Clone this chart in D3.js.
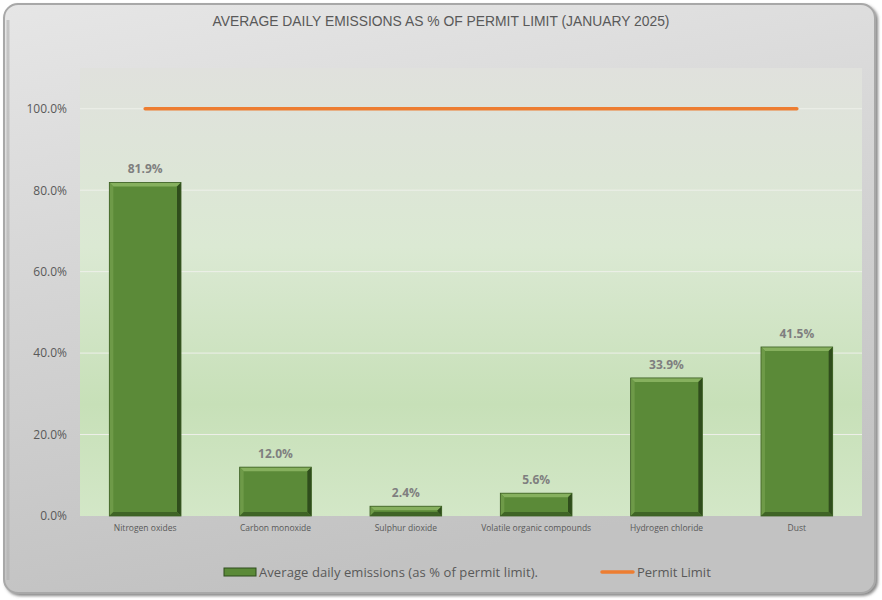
<!DOCTYPE html>
<html><head><meta charset="utf-8">
<script src="https://cdn.jsdelivr.net/npm/d3@7"></script>
<style>body{margin:0;background:#fff;} svg{display:block;}</style>
</head><body>
<svg id="c" width="882" height="600"></svg>
<script>
const categories = ["Nitrogen oxides","Carbon monoxide","Sulphur dioxide","Volatile organic compounds","Hydrogen chloride","Dust"];
const emissions = [0.819, 0.120, 0.024, 0.056, 0.339, 0.415];
const permitLimit = [1, 1, 1, 1, 1, 1];
const yTicks = [0, 0.2, 0.4, 0.6, 0.8, 1.0];
const title = "AVERAGE DAILY EMISSIONS AS % OF PERMIT LIMIT (JANUARY 2025)";
const legendLabels = ["Average daily emissions (as % of permit limit).", "Permit Limit"];

const svg = d3.select("#c");
const defs = svg.append("defs");

const bg = defs.append("linearGradient").attr("id","bg").attr("x1",0).attr("y1",0).attr("x2",0.25).attr("y2",1);
bg.append("stop").attr("offset","0%").attr("stop-color","#e6e6e6");
bg.append("stop").attr("offset","55%").attr("stop-color","#d2d2d2");
bg.append("stop").attr("offset","100%").attr("stop-color","#c2c2c2");

const pa = defs.append("linearGradient").attr("id","pa").attr("x1",0).attr("y1",0).attr("x2",0).attr("y2",1);
pa.append("stop").attr("offset","0%").attr("stop-color","#e0e1dd");
pa.append("stop").attr("offset","40%").attr("stop-color","#dbe9d3");
pa.append("stop").attr("offset","75%").attr("stop-color","#c7e0b8");
pa.append("stop").attr("offset","100%").attr("stop-color","#d3e7c7");

const sh = defs.append("filter").attr("id","sh").attr("x","-5%").attr("y","-5%").attr("width","110%").attr("height","110%");
sh.append("feDropShadow").attr("dx",2).attr("dy",2).attr("stdDeviation",1.5).attr("flood-color","#555").attr("flood-opacity",0.7);

// frame
svg.append("rect").attr("x",4).attr("y",4).attr("width",871).attr("height",589).attr("rx",14)
  .attr("fill","url(#bg)").attr("stroke","#a8a8a8").attr("stroke-width",2).attr("filter","url(#sh)");
svg.append("path").attr("d","M 8 580 L 8 20").attr("stroke","#b0b0b0").attr("stroke-width",3).attr("opacity",0.6);

const m = {l:80, r:862, t:68, b:516};
const x = d3.scaleBand().domain(categories).range([m.l, m.r]).paddingInner(0.45).paddingOuter(0.225);
const y = d3.scaleLinear().domain([0, 1.1]).range([m.b, m.t]);

svg.append("rect").attr("x",m.l).attr("y",m.t).attr("width",m.r-m.l).attr("height",m.b-m.t).attr("fill","url(#pa)");

// gridlines
svg.append("g").selectAll("line").data(yTicks.slice(1)).join("line")
  .attr("x1",m.l).attr("x2",m.r).attr("y1",d=>y(d)).attr("y2",d=>y(d))
  .attr("stroke","#eef0ea").attr("stroke-width",1);

// y axis
const yAxis = d3.axisLeft(y).tickValues(yTicks).tickFormat(d3.format(".1%")).tickSize(0).tickPadding(13);
const ya = svg.append("g").attr("transform",`translate(${m.l},0)`).call(yAxis);
ya.select(".domain").remove();
ya.selectAll("text").attr("fill","#595959").style("font-family","'Open Sans', Calibri, sans-serif").style("font-size","12px");

// x axis
const xAxis = d3.axisBottom(x).tickSize(0).tickPadding(9);
const xa = svg.append("g").attr("transform",`translate(0,${m.b})`).call(xAxis);
xa.select(".domain").remove();
xa.selectAll("text").attr("fill","#595959").style("font-family","'Open Sans', sans-serif").style("font-size","8.5px");

// bars with bevel
const bw = x.bandwidth();
const bev = 4;
const bars = svg.append("g").selectAll("g").data(categories.map((c,i)=>({c,v:emissions[i]}))).join("g");
bars.append("rect").attr("x",d=>x(d.c)).attr("y",d=>y(d.v)).attr("width",bw).attr("height",d=>y(0)-y(d.v))
  .attr("fill","#5b8a38");
function poly(pts){return "M"+pts.map(p=>p.join(",")).join("L")+"Z";}
bars.each(function(d){
  const g = d3.select(this);
  const x0 = x(d.c), x1 = x0+bw, y0 = y(d.v), y1 = y(0);
  const b = Math.min(bev, (y1-y0)/2);
  g.append("path").attr("d",poly([[x0,y0],[x1,y0],[x1-b,y0+b],[x0+b,y0+b]])).attr("fill","#86b05e");
  g.append("path").attr("d",poly([[x0,y0],[x0+b,y0+b],[x0+b,y1-b],[x0,y1]])).attr("fill","#6e9a48");
  g.append("path").attr("d",poly([[x1,y0],[x1,y1],[x1-b,y1-b],[x1-b,y0+b]])).attr("fill","#2f4d1c");
  g.append("path").attr("d",poly([[x0,y1],[x0+b,y1-b],[x1-b,y1-b],[x1,y1]])).attr("fill","#3f6426");
  g.append("rect").attr("x",x0).attr("y",y0).attr("width",bw).attr("height",y1-y0).attr("fill","none").attr("stroke","#3d5f25").attr("stroke-width",0.8);
});
bars.append("text").attr("x",d=>x(d.c)+bw/2).attr("y",d=>y(d.v)-9)
  .attr("text-anchor","middle").attr("fill","#7f7f7f").style("font-family","'Open Sans', sans-serif")
  .style("font-size","12px").style("font-weight","bold").text(d=>d3.format(".1%")(d.v));

// permit line
const line = d3.line().x((d,i)=>x(categories[i])+bw/2).y(d=>y(d));
svg.append("path").datum(permitLimit).attr("d",line).attr("fill","none").attr("stroke","#ed7d31")
  .attr("stroke-width",3.5).attr("stroke-linecap","round");

// title
svg.append("text").attr("x",441).attr("y",26).attr("text-anchor","middle").attr("fill","#595959")
  .attr("textLength",457).attr("lengthAdjust","spacingAndGlyphs")
  .style("font-family","'Liberation Sans', Arial, sans-serif").style("font-size","15px").text(title);

// legend
const lg = svg.append("g");
lg.append("rect").attr("x",224).attr("y",568).attr("width",32).attr("height",8).attr("fill","#5b8a38").attr("stroke","#2f4d1c").attr("stroke-width",1);
lg.append("text").attr("x",259).attr("y",577).attr("fill","#595959").attr("textLength",279).attr("lengthAdjust","spacing")
  .style("font-family","'Open Sans', sans-serif").style("font-size","13px").text(legendLabels[0]);
lg.append("line").attr("x1",602).attr("x2",633).attr("y1",572).attr("y2",572).attr("stroke","#ed7d31").attr("stroke-width",3.5).attr("stroke-linecap","round");
lg.append("text").attr("x",637).attr("y",577).attr("fill","#595959").style("font-family","'Open Sans', sans-serif").style("font-size","13px").text(legendLabels[1]);
</script>
</body></html>
